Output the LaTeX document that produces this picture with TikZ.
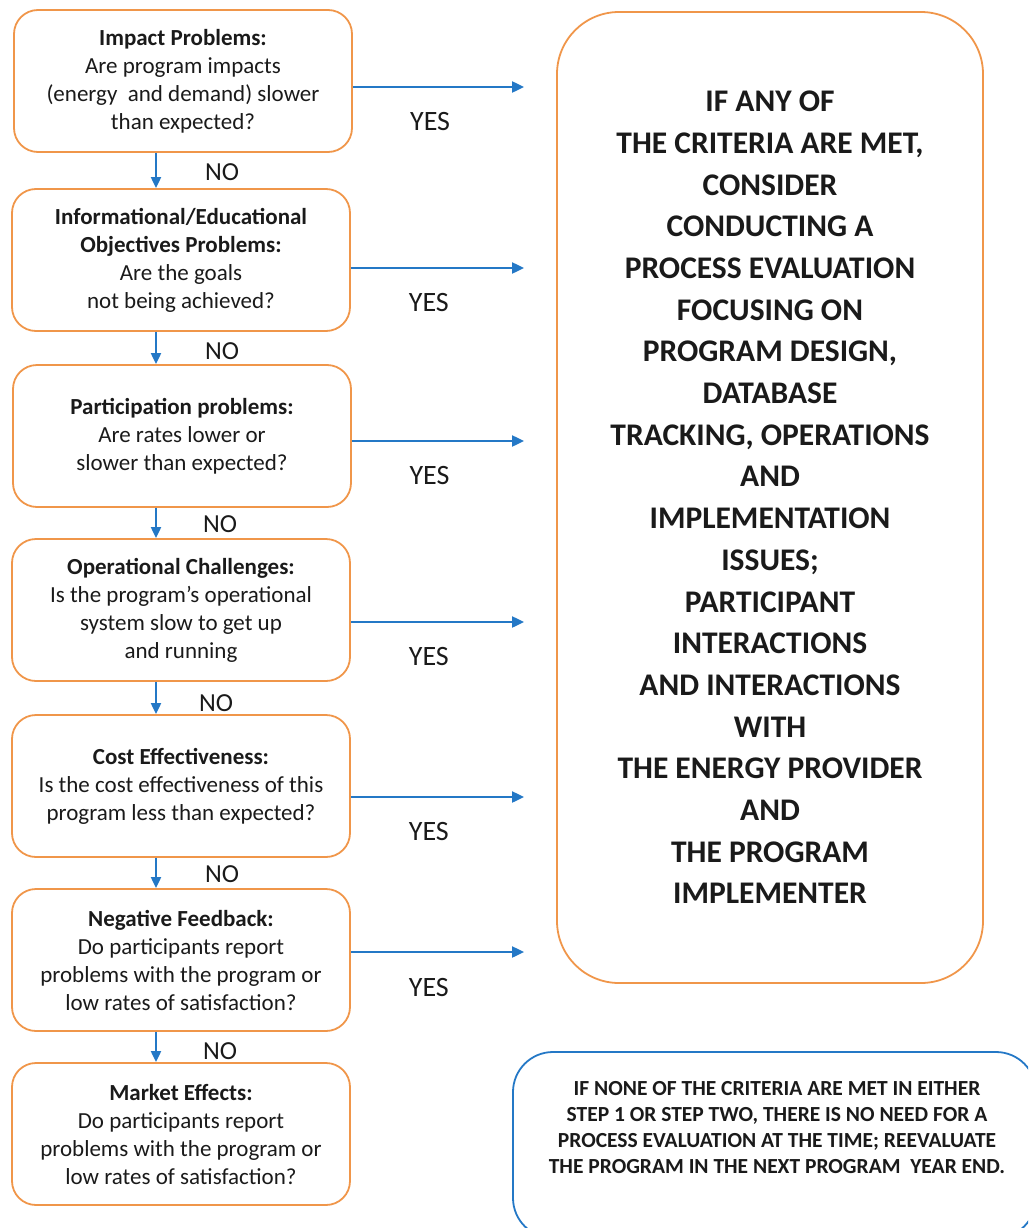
\documentclass[tikz,border=0pt]{standalone}
\usepackage{fontspec}
\setmainfont{Carlito}
\usepackage{xcolor}
\usetikzlibrary{arrows.meta}

\definecolor{boxorange}{HTML}{F0964A}
\definecolor{flowblue}{HTML}{2478C6}
\definecolor{inkdark}{HTML}{1A1A1A}

\begin{document}
\begin{tikzpicture}[
    x=1pt, y=-1pt,
    every node/.style={inner sep=0pt, text=inkdark},
    question/.style={draw=boxorange, line width=1.8pt, rounded corners=24pt,
        minimum width=338pt, minimum height=142pt, align=center,
        font=\fontsize{23}{28}\selectfont},
    yesarrow/.style={draw=flowblue, line width=2pt,
        -{Triangle[length=12pt,width=11pt]}, shorten >=32pt},
    noarrow/.style={draw=flowblue, line width=2pt,
        -{Triangle[length=11pt,width=10pt]}},
    answer/.style={font=\fontsize{26}{28}\selectfont}
]
    \clip (0,0) rectangle (1028,1228);

    % 1. Define the nodes
    \node[question] (impact) at (183,81) {\textbf{Impact Problems:}\\Are program impacts\\(energy~ and demand) slower\\than expected?};
    \node[question] (inform) at (181,260) {\textbf{Informational/Educational}\\\textbf{Objectives Problems:}\\Are the goals\\not being achieved?};
    \node[question] (partic) at (182,436) {\textbf{Participation problems:}\\Are rates lower or\\slower than expected?};
    \node[question] (operat) at (181,610) {\textbf{Operational Challenges:}\\Is the program's operational\\system slow to get up\\and running};
    \node[question] (costeff) at (181,786) {\textbf{Cost Effectiveness:}\\Is the cost effectiveness of this\\program less than expected?};
    \node[question] (negfb) at (181,960) {\textbf{Negative Feedback:}\\Do participants report\\problems with the program or\\low rates of satisfaction?};
    \node[question] (market) at (181,1134) {\textbf{Market Effects:}\\Do participants report\\problems with the program or\\low rates of satisfaction?};

    % big answer box on the right
    \node[draw=boxorange, line width=1.8pt, rounded corners=62pt,
        minimum width=426pt, minimum height=971pt, align=center,
        font=\bfseries\fontsize{31.5}{41.7}\selectfont] (consider) at (770,497.5)
        {IF ANY OF\\THE CRITERIA ARE MET,\\CONSIDER\\CONDUCTING A\\PROCESS EVALUATION\\FOCUSING ON\\PROGRAM DESIGN,\\DATABASE\\TRACKING, OPERATIONS\\AND\\IMPLEMENTATION\\ISSUES;\\PARTICIPANT\\INTERACTIONS\\AND INTERACTIONS\\WITH\\THE ENERGY PROVIDER\\AND\\THE PROGRAM\\IMPLEMENTER};

    % bottom box (runs off the page)
    \draw[draw=flowblue, line width=1.8pt, rounded corners=40pt] (513,1052) rectangle (1036,1238);
    \node[align=center, font=\bfseries\fontsize{21.5}{26}\selectfont] (noneMet) at (777,1128)
        {IF NONE OF THE CRITERIA ARE MET IN EITHER\\STEP 1 OR STEP TWO, THERE IS NO NEED FOR A\\PROCESS EVALUATION AT THE TIME; REEVALUATE\\THE PROGRAM IN THE NEXT PROGRAM~ YEAR END.};

    % 2. Draw the arrows

    % NO arrows down the left column
    \draw[noarrow] (impact.south -| 156,0) -- (inform.north -| 156,0) node[answer, pos=0.55, xshift=66pt] {NO};
    \draw[noarrow] (inform.south -| 156,0) -- (partic.north -| 156,0) node[answer, pos=0.6, xshift=66pt] {NO};
    \draw[noarrow] (partic.south -| 156,0) -- (operat.north -| 156,0) node[answer, pos=0.55, xshift=64pt] {NO};
    \draw[noarrow] (operat.south -| 156,0) -- (costeff.north -| 156,0) node[answer, pos=0.65, xshift=60pt] {NO};
    \draw[noarrow] (costeff.south -| 156,0) -- (negfb.north -| 156,0) node[answer, pos=0.55, xshift=66pt] {NO};
    \draw[noarrow] (negfb.south -| 156,0) -- (market.north -| 156,0) node[answer, pos=0.65, xshift=64pt] {NO};

    % YES arrows into the answer box
    \foreach \q/\dy in {impact/6, inform/8, partic/5, operat/12, costeff/11, negfb/-8} {
        \draw[yesarrow] ([yshift=-\dy pt]\q.east) -- ([yshift=-\dy pt]\q.east -| consider.west)
            node[answer, font=\fontsize{28}{30}\selectfont, pos=0.38, yshift=-35pt] {YES};
    }

\end{tikzpicture}
\end{document}
